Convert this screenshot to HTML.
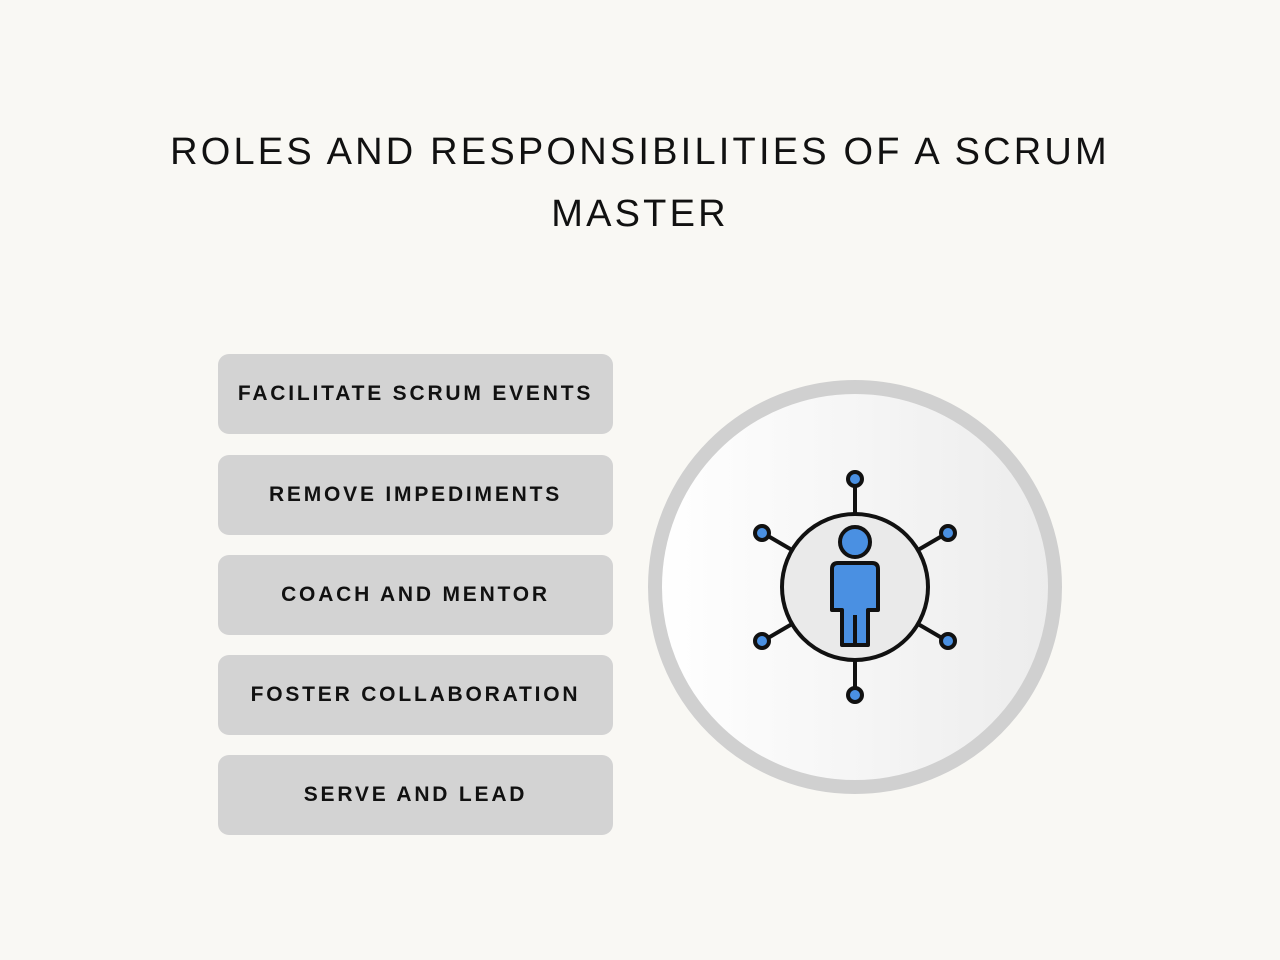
<!DOCTYPE html>
<html><head><style>
body{margin:0;width:1280px;height:960px;background:#f9f8f4;position:relative;overflow:hidden;font-family:"Liberation Sans",sans-serif}
.t{position:absolute;left:0;width:1280px;text-align:center;font-size:38px;color:#111;letter-spacing:3.2px;line-height:62px;top:121px}
.b{position:absolute;left:218px;width:395px;height:80px;background:#d3d3d3;border-radius:11px;display:flex;align-items:center;justify-content:center;font-weight:bold;font-size:21px;letter-spacing:2.8px;color:#111}
</style></head><body>
<div class="t">ROLES AND RESPONSIBILITIES OF A SCRUM<br>MASTER</div>
<div class="b" style="top:354px">FACILITATE SCRUM EVENTS</div>
<div class="b" style="top:455px">REMOVE IMPEDIMENTS</div>
<div class="b" style="top:555px">COACH AND MENTOR</div>
<div class="b" style="top:655px">FOSTER COLLABORATION</div>
<div class="b" style="top:755px">SERVE AND LEAD</div>
<svg width="1280" height="960" style="position:absolute;left:0;top:0">
<defs><linearGradient id="g" x1="0" y1="0" x2="1" y2="0"><stop offset="0" stop-color="#fff"/><stop offset="1" stop-color="#ececec"/></linearGradient></defs>
<circle cx="855" cy="587" r="200" fill="url(#g)" stroke="#d0d0d0" stroke-width="14"/>
<g stroke="#111" stroke-width="4" fill="none">
<line x1="855" y1="486" x2="855" y2="514"/><line x1="855" y1="660" x2="855" y2="688"/>
<line x1="768" y1="536" x2="792" y2="550"/><line x1="942" y1="536" x2="918" y2="550"/>
<line x1="768" y1="638" x2="792" y2="624"/><line x1="942" y1="638" x2="918" y2="624"/>
<circle cx="855" cy="587" r="73" fill="#eaeaea"/>
</g>
<g stroke="#111" stroke-width="4" fill="#4a90e2">
<circle cx="855" cy="479" r="7"/><circle cx="855" cy="695" r="7"/>
<circle cx="762" cy="533" r="7"/><circle cx="948" cy="533" r="7"/>
<circle cx="762" cy="641" r="7"/><circle cx="948" cy="641" r="7"/>
<circle cx="855" cy="542" r="15"/>
<path d="M838 563 H872 Q878 563 878 569 V610 H868 V645 H842 V610 H832 V569 Q832 563 838 563 Z" stroke-linejoin="round"/>
<line x1="855" y1="615" x2="855" y2="645"/>
</g>
</svg>
</body></html>
